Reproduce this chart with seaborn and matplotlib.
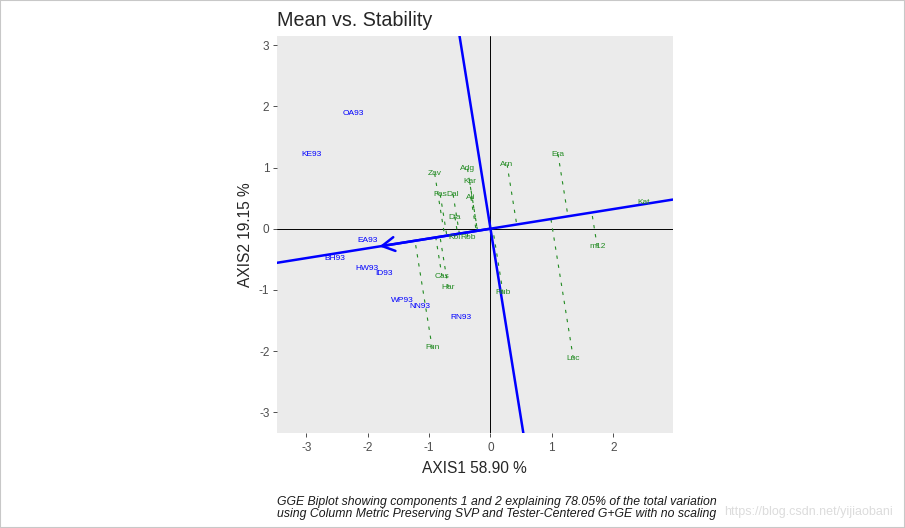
import numpy as np
import pandas as pd
import matplotlib
matplotlib.use("Agg")
import matplotlib.pyplot as plt
from matplotlib.patches import Rectangle
import seaborn as sns

# Genotype scores (green)
genotypes = ["Zav", "Adg", "Kar", "Fas", "Dal", "Ali", "Dia", "Kol", "Rob",
             "Arn", "Era", "Kat", "m12", "Cas", "Har", "Rub", "Fun", "Luc"]
gen_x = [-0.91, -0.375, -0.34, -0.82, -0.61, -0.32, -0.58, -0.58, -0.37,
         0.27, 1.10, 2.49, 1.74, -0.79, -0.69, 0.205, -0.95, 1.35]
gen_y = [0.90, 0.98, 0.77, 0.56, 0.56, 0.51, 0.19, -0.14, -0.14,
         1.05, 1.22, 0.43, -0.29, -0.78, -0.96, -1.05, -1.95, -2.12]

# Environment scores (blue)
environments = ["OA93", "KE93", "EA93", "BH93", "HW93", "ID93", "WP93", "NN93", "RN93"]
env_x = [-2.24, -2.91, -2.01, -2.54, -2.01, -1.74, -1.43, -1.15, -0.48]
env_y = [1.89, 1.22, -0.19, -0.48, -0.65, -0.73, -1.18, -1.27, -1.45]

# average environment coordinate (arrow tip)
avg_env = [-1.81, -0.29]

x_ticks = [-3, -2, -1, 0, 1, 2]
y_ticks = [-3, -2, -1, 0, 1, 2, 3]

sns.set_style("dark", {"axes.facecolor": "#EBEBEB"})
plt.rcParams["font.family"] = ["Liberation Sans", "DejaVu Sans"]
plt.rcParams["lines.scale_dashes"] = False
plt.rcParams["axes.unicode_minus"] = False

fig = plt.figure(figsize=(9.05, 5.28), dpi=100)
ax = fig.add_axes([276.7 / 905, 1 - 433 / 528, 396 / 905, 397 / 528])
ax.set_xlim(-3.485, 2.97)
ax.set_ylim(-3.34, 3.15)
for s in ax.spines.values():
    s.set_visible(False)

# projections of genotypes on the average-environment axis
ux, uy = avg_env
norm2 = ux * ux + uy * uy
rows = []
for g, x, y in zip(genotypes, gen_x, gen_y):
    t = (x * ux + y * uy) / norm2
    rows.append({"gen": g, "x": x, "y": y})
    rows.append({"gen": g, "x": t * ux, "y": t * uy})
seg = pd.DataFrame(rows)

ax.axhline(0, color="black", lw=0.7, zorder=1)
ax.axvline(0, color="black", lw=0.7, zorder=1)

sns.lineplot(data=seg, x="x", y="y", units="gen", estimator=None, sort=False,
             color="forestgreen", lw=0.8, linestyle=(0, (2.4, 4.2)), ax=ax, zorder=2)

slope = uy / ux
ax.axline((0, 0), slope=slope, color="blue", lw=1.8, zorder=3)
ax.axline((0, 0), slope=-1 / slope, color="blue", lw=1.8, zorder=3)
ax.annotate("", xy=avg_env, xytext=(0, 0),
            arrowprops=dict(arrowstyle="->,head_length=0.9,head_width=0.5",
                            color="blue", lw=1.8, shrinkA=0, shrinkB=0), zorder=3)

for g, x, y in zip(genotypes, gen_x, gen_y):
    ax.text(x, y, g, color="forestgreen", fontsize=6, ha="center", va="center", zorder=4)
for e, x, y in zip(environments, env_x, env_y):
    ax.text(x, y, e, color="blue", fontsize=6, ha="center", va="center", zorder=4)

ax.set_xticks(x_ticks)
ax.set_yticks(y_ticks)
ax.tick_params(bottom=True, left=True, length=2.75, width=0.6, color="#333333",
               labelcolor="#4D4D4D", labelsize=8.5, pad=2.5)
ax.tick_params(axis="x", pad=4)
ax.set_xlabel("")
ax.set_ylabel("")

fig.text(276.7 / 905, 1 - 26 / 528, "Mean vs. Stability", fontsize=14.2, va="baseline")
fig.text(474.7 / 905, 1 - 473 / 528, "AXIS1 58.90 %", fontsize=11.2, ha="center", va="baseline")
fig.text(245 / 905, 1 - 234.5 / 528, "AXIS2 19.15 %", fontsize=11.2, ha="center",
         va="center", rotation=90)
fig.text(276.7 / 905, 1 - 504.5 / 528,
         "GGE Biplot showing components 1 and 2 explaining 78.05% of the total variation",
         fontsize=8.8, style="italic", va="baseline", color="#1a1a1a")
fig.text(276.7 / 905, 1 - 517 / 528,
         "using Column Metric Preserving SVP and Tester-Centered G+GE with no scaling",
         fontsize=8.8, style="italic", va="baseline", color="#1a1a1a")
fig.text(893 / 905, 1 - 515 / 528, "https://blog.csdn.net/yijiaobani", fontsize=9,
         ha="right", va="baseline", color="#dcdcdc", zorder=0)

fig.patches.append(Rectangle((0, 0), 1, 1, transform=fig.transFigure, fill=False,
                             edgecolor="#c8c8c8", lw=1.5))

fig.savefig("out.png", dpi=100)
